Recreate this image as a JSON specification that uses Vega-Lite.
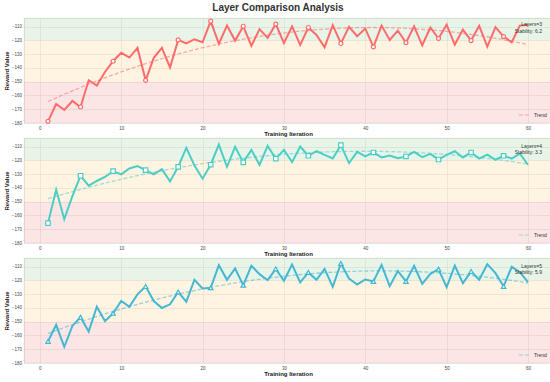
{
  "$schema": "https://vega.github.io/schema/vega-lite/v6.json",
  "padding": {"left": 2, "top": 3, "right": 0, "bottom": 1},
  "title": {"text": "Layer Comparison Analysis", "fontSize": 10, "fontWeight": "bold", "color": "#333333", "anchor": "middle", "offset": 3},
  "spacing": 0,
  "datasets": {
    "runs": [
      {"iteration":1,"reward":-178.8,"layers":3},{"iteration":2,"reward":-166.2,"layers":3},{"iteration":3,"reward":-170.5,"layers":3},{"iteration":4,"reward":-164,"layers":3},{"iteration":5,"reward":-168.4,"layers":3},{"iteration":6,"reward":-149,"layers":3},{"iteration":7,"reward":-152.8,"layers":3},{"iteration":8,"reward":-143,"layers":3},{"iteration":9,"reward":-135.2,"layers":3},{"iteration":10,"reward":-129.1,"layers":3},
      {"iteration":11,"reward":-132.5,"layers":3},{"iteration":12,"reward":-125.5,"layers":3},{"iteration":13,"reward":-149,"layers":3},{"iteration":14,"reward":-132.7,"layers":3},{"iteration":15,"reward":-125.5,"layers":3},{"iteration":16,"reward":-139.7,"layers":3},{"iteration":17,"reward":-119.7,"layers":3},{"iteration":18,"reward":-122.3,"layers":3},{"iteration":19,"reward":-119.2,"layers":3},{"iteration":20,"reward":-121.4,"layers":3},
      {"iteration":21,"reward":-106.1,"layers":3},{"iteration":22,"reward":-122.6,"layers":3},{"iteration":23,"reward":-109.3,"layers":3},{"iteration":24,"reward":-120.2,"layers":3},{"iteration":25,"reward":-109.8,"layers":3},{"iteration":26,"reward":-124,"layers":3},{"iteration":27,"reward":-111.9,"layers":3},{"iteration":28,"reward":-118.2,"layers":3},{"iteration":29,"reward":-108.2,"layers":3},{"iteration":30,"reward":-122,"layers":3},
      {"iteration":31,"reward":-109.8,"layers":3},{"iteration":32,"reward":-123.3,"layers":3},{"iteration":33,"reward":-110.7,"layers":3},{"iteration":34,"reward":-116.1,"layers":3},{"iteration":35,"reward":-125,"layers":3},{"iteration":36,"reward":-109,"layers":3},{"iteration":37,"reward":-122.3,"layers":3},{"iteration":38,"reward":-110.2,"layers":3},{"iteration":39,"reward":-117,"layers":3},{"iteration":40,"reward":-111.5,"layers":3},
      {"iteration":41,"reward":-124.8,"layers":3},{"iteration":42,"reward":-109.3,"layers":3},{"iteration":43,"reward":-119.7,"layers":3},{"iteration":44,"reward":-112.9,"layers":3},{"iteration":45,"reward":-121.7,"layers":3},{"iteration":46,"reward":-109.8,"layers":3},{"iteration":47,"reward":-123.6,"layers":3},{"iteration":48,"reward":-110.7,"layers":3},{"iteration":49,"reward":-118.7,"layers":3},{"iteration":50,"reward":-108.7,"layers":3},
      {"iteration":51,"reward":-123.1,"layers":3},{"iteration":52,"reward":-112.2,"layers":3},{"iteration":53,"reward":-120.2,"layers":3},{"iteration":54,"reward":-109.5,"layers":3},{"iteration":55,"reward":-124.5,"layers":3},{"iteration":56,"reward":-110.4,"layers":3},{"iteration":57,"reward":-117.3,"layers":3},{"iteration":58,"reward":-121.4,"layers":3},{"iteration":59,"reward":-109.3,"layers":3},{"iteration":60,"reward":-108.7,"layers":3},

      {"iteration":1,"reward":-165.6,"layers":4},{"iteration":2,"reward":-141.3,"layers":4},{"iteration":3,"reward":-162.7,"layers":4},{"iteration":4,"reward":-146,"layers":4},{"iteration":5,"reward":-131.2,"layers":4},{"iteration":6,"reward":-138.4,"layers":4},{"iteration":7,"reward":-135,"layers":4},{"iteration":8,"reward":-132.1,"layers":4},{"iteration":9,"reward":-127.8,"layers":4},{"iteration":10,"reward":-130.2,"layers":4},
      {"iteration":11,"reward":-125.9,"layers":4},{"iteration":12,"reward":-124.2,"layers":4},{"iteration":13,"reward":-127.1,"layers":4},{"iteration":14,"reward":-130.2,"layers":4},{"iteration":15,"reward":-126.4,"layers":4},{"iteration":16,"reward":-135.3,"layers":4},{"iteration":17,"reward":-124.7,"layers":4},{"iteration":18,"reward":-111,"layers":4},{"iteration":19,"reward":-123.7,"layers":4},{"iteration":20,"reward":-133.3,"layers":4},
      {"iteration":21,"reward":-123.2,"layers":4},{"iteration":22,"reward":-108.6,"layers":4},{"iteration":23,"reward":-124.7,"layers":4},{"iteration":24,"reward":-110.2,"layers":4},{"iteration":25,"reward":-121.5,"layers":4},{"iteration":26,"reward":-112.4,"layers":4},{"iteration":27,"reward":-123.4,"layers":4},{"iteration":28,"reward":-109.5,"layers":4},{"iteration":29,"reward":-118.8,"layers":4},{"iteration":30,"reward":-112.4,"layers":4},
      {"iteration":31,"reward":-121.3,"layers":4},{"iteration":32,"reward":-110,"layers":4},{"iteration":33,"reward":-116.7,"layers":4},{"iteration":34,"reward":-113.4,"layers":4},{"iteration":35,"reward":-116,"layers":4},{"iteration":36,"reward":-118.7,"layers":4},{"iteration":37,"reward":-109,"layers":4},{"iteration":38,"reward":-122,"layers":4},{"iteration":39,"reward":-113.9,"layers":4},{"iteration":40,"reward":-117.2,"layers":4},
      {"iteration":41,"reward":-114.3,"layers":4},{"iteration":42,"reward":-117.9,"layers":4},{"iteration":43,"reward":-116.5,"layers":4},{"iteration":44,"reward":-118.4,"layers":4},{"iteration":45,"reward":-117.2,"layers":4},{"iteration":46,"reward":-113.9,"layers":4},{"iteration":47,"reward":-117.7,"layers":4},{"iteration":48,"reward":-115.3,"layers":4},{"iteration":49,"reward":-119.4,"layers":4},{"iteration":50,"reward":-116,"layers":4},
      {"iteration":51,"reward":-113.4,"layers":4},{"iteration":52,"reward":-117.9,"layers":4},{"iteration":53,"reward":-114.3,"layers":4},{"iteration":54,"reward":-118.7,"layers":4},{"iteration":55,"reward":-115.8,"layers":4},{"iteration":56,"reward":-119.6,"layers":4},{"iteration":57,"reward":-116.7,"layers":4},{"iteration":58,"reward":-118.7,"layers":4},{"iteration":59,"reward":-115.1,"layers":4},{"iteration":60,"reward":-123.2,"layers":4},

      {"iteration":1,"reward":-164.4,"layers":5},{"iteration":2,"reward":-152.3,"layers":5},{"iteration":3,"reward":-168.2,"layers":5},{"iteration":4,"reward":-153.1,"layers":5},{"iteration":5,"reward":-146.8,"layers":5},{"iteration":6,"reward":-157.2,"layers":5},{"iteration":7,"reward":-139.1,"layers":5},{"iteration":8,"reward":-149.6,"layers":5},{"iteration":9,"reward":-143.9,"layers":5},{"iteration":10,"reward":-135,"layers":5},
      {"iteration":11,"reward":-139.3,"layers":5},{"iteration":12,"reward":-130.2,"layers":5},{"iteration":13,"reward":-124.4,"layers":5},{"iteration":14,"reward":-135,"layers":5},{"iteration":15,"reward":-140.1,"layers":5},{"iteration":16,"reward":-137.4,"layers":5},{"iteration":17,"reward":-128.5,"layers":5},{"iteration":18,"reward":-135.5,"layers":5},{"iteration":19,"reward":-119.6,"layers":5},{"iteration":20,"reward":-125.9,"layers":5},
      {"iteration":21,"reward":-125.4,"layers":5},{"iteration":22,"reward":-109,"layers":5},{"iteration":23,"reward":-119.6,"layers":5},{"iteration":24,"reward":-111.4,"layers":5},{"iteration":25,"reward":-123.5,"layers":5},{"iteration":26,"reward":-109.5,"layers":5},{"iteration":27,"reward":-115.5,"layers":5},{"iteration":28,"reward":-119.9,"layers":5},{"iteration":29,"reward":-111.7,"layers":5},{"iteration":30,"reward":-120.3,"layers":5},
      {"iteration":31,"reward":-108.6,"layers":5},{"iteration":32,"reward":-121.5,"layers":5},{"iteration":33,"reward":-114.3,"layers":5},{"iteration":34,"reward":-119.6,"layers":5},{"iteration":35,"reward":-111.7,"layers":5},{"iteration":36,"reward":-124.7,"layers":5},{"iteration":37,"reward":-107.8,"layers":5},{"iteration":38,"reward":-118.7,"layers":5},{"iteration":39,"reward":-123,"layers":5},{"iteration":40,"reward":-119.4,"layers":5},
      {"iteration":41,"reward":-120.8,"layers":5},{"iteration":42,"reward":-108.8,"layers":5},{"iteration":43,"reward":-124.2,"layers":5},{"iteration":44,"reward":-113.2,"layers":5},{"iteration":45,"reward":-120.8,"layers":5},{"iteration":46,"reward":-109.5,"layers":5},{"iteration":47,"reward":-122.5,"layers":5},{"iteration":48,"reward":-115.3,"layers":5},{"iteration":49,"reward":-111.9,"layers":5},{"iteration":50,"reward":-124.9,"layers":5},
      {"iteration":51,"reward":-109.3,"layers":5},{"iteration":52,"reward":-122.1,"layers":5},{"iteration":53,"reward":-113.5,"layers":5},{"iteration":54,"reward":-119.6,"layers":5},{"iteration":55,"reward":-108.3,"layers":5},{"iteration":56,"reward":-114.8,"layers":5},{"iteration":57,"reward":-124.4,"layers":5},{"iteration":58,"reward":-110.2,"layers":5},{"iteration":59,"reward":-114.1,"layers":5},{"iteration":60,"reward":-121.3,"layers":5}
    ],
    "zones": [
      {"low": -180, "high": -150, "zone": "poor"},
      {"low": -150, "high": -120, "zone": "fair"},
      {"low": -120, "high": -100, "zone": "good"}
    ]
  },
  "resolve": {"scale": {"strokeDash": "independent", "fill": "independent"}, "legend": {"strokeDash": "independent"}},
  "vconcat": [
    {
      "width": 528, "height": 105,
      "title": {"text": ["Layers=3", "Stability: 6.2"]},
      "encoding": {
        "x": {"field": "iteration", "type": "quantitative", "scale": {"domain": [-1.95, 62.95], "nice": false, "zero": false}, "axis": {"values": [0,10,20,30,40,50,60], "title": "Training Iteration", "labelOverlap": false}},
        "y": {"field": "reward", "type": "quantitative", "scale": {"domain": [-180, -103.8], "nice": false, "zero": false}, "axis": {"values": [-180,-170,-160,-150,-140,-130,-120,-110], "title": "Reward Value", "labelOverlap": false}}
      },
      "layer": [
        {
          "data": {"name": "zones"},
          "mark": {"type": "rect", "clip": true, "fillOpacity": 0.12},
          "encoding": {
            "x": null,
            "y": {"field": "low", "type": "quantitative"},
            "y2": {"field": "high"},
            "fill": {"field": "zone", "type": "nominal", "scale": {"domain": ["poor","fair","good"], "range": ["#e8302a","#ff9a10","#43a843"]}, "legend": null}
          }
        },
        {
          "data": {"name": "runs"},
          "transform": [{"filter": "datum.layers == 3"}, {"regression": "reward", "on": "iteration", "method": "poly", "order": 2, "extent": [1, 60]}],
          "mark": {"type": "line", "color": "#ff6b6b", "strokeWidth": 1.3, "strokeOpacity": 0.55},
          "encoding": {
            "strokeDash": {"datum": "Trend", "type": "nominal", "scale": {"range": [[4, 2]]}, "legend": {"title": null, "orient": "bottom-right", "symbolStrokeColor": "#ff6b6b", "symbolOpacity": 0.55}}
          }
        },
        {
          "data": {"name": "runs"},
          "transform": [{"filter": "datum.layers == 3"}],
          "mark": {"type": "line", "color": "#ff6b6b", "strokeWidth": 2},
          "encoding": {}
        },
        {
          "data": {"name": "runs"},
          "transform": [{"filter": "datum.layers == 3 && datum.iteration % 4 == 1"}],
          "mark": {"type": "point", "shape": "circle", "filled": true, "fill": "white", "stroke": "#ff6b6b", "strokeWidth": 1.2, "size": 16, "opacity": 1},
          "encoding": {}
        }
      ]
    },
    {
      "width": 528, "height": 105,
      "title": {"text": ["Layers=4", "Stability: 3.3"]},
      "encoding": {
        "x": {"field": "iteration", "type": "quantitative", "scale": {"domain": [-1.95, 62.95], "nice": false, "zero": false}, "axis": {"values": [0,10,20,30,40,50,60], "title": "Training Iteration", "labelOverlap": false}},
        "y": {"field": "reward", "type": "quantitative", "scale": {"domain": [-180, -103.8], "nice": false, "zero": false}, "axis": {"values": [-180,-170,-160,-150,-140,-130,-120,-110], "title": "Reward Value", "labelOverlap": false}}
      },
      "layer": [
        {
          "data": {"name": "zones"},
          "mark": {"type": "rect", "clip": true, "fillOpacity": 0.12},
          "encoding": {
            "x": null,
            "y": {"field": "low", "type": "quantitative"},
            "y2": {"field": "high"},
            "fill": {"field": "zone", "type": "nominal", "scale": {"domain": ["poor","fair","good"], "range": ["#e8302a","#ff9a10","#43a843"]}, "legend": null}
          }
        },
        {
          "data": {"name": "runs"},
          "transform": [{"filter": "datum.layers == 4"}, {"regression": "reward", "on": "iteration", "method": "poly", "order": 2, "extent": [1, 60]}],
          "mark": {"type": "line", "color": "#4ecdc4", "strokeWidth": 1.3, "strokeOpacity": 0.55},
          "encoding": {
            "strokeDash": {"datum": "Trend", "type": "nominal", "scale": {"range": [[4, 2]]}, "legend": {"title": null, "orient": "bottom-right", "symbolStrokeColor": "#4ecdc4", "symbolOpacity": 0.55}}
          }
        },
        {
          "data": {"name": "runs"},
          "transform": [{"filter": "datum.layers == 4"}],
          "mark": {"type": "line", "color": "#4ecdc4", "strokeWidth": 2},
          "encoding": {}
        },
        {
          "data": {"name": "runs"},
          "transform": [{"filter": "datum.layers == 4 && datum.iteration % 4 == 1"}],
          "mark": {"type": "point", "shape": "square", "filled": true, "fill": "white", "stroke": "#4ecdc4", "strokeWidth": 1.2, "size": 20, "opacity": 1},
          "encoding": {}
        }
      ]
    },
    {
      "width": 528, "height": 105,
      "title": {"text": ["Layers=5", "Stability: 5.9"]},
      "encoding": {
        "x": {"field": "iteration", "type": "quantitative", "scale": {"domain": [-1.95, 62.95], "nice": false, "zero": false}, "axis": {"values": [0,10,20,30,40,50,60], "title": "Training Iteration", "labelOverlap": false}},
        "y": {"field": "reward", "type": "quantitative", "scale": {"domain": [-180, -103.8], "nice": false, "zero": false}, "axis": {"values": [-180,-170,-160,-150,-140,-130,-120,-110], "title": "Reward Value", "labelOverlap": false}}
      },
      "layer": [
        {
          "data": {"name": "zones"},
          "mark": {"type": "rect", "clip": true, "fillOpacity": 0.12},
          "encoding": {
            "x": null,
            "y": {"field": "low", "type": "quantitative"},
            "y2": {"field": "high"},
            "fill": {"field": "zone", "type": "nominal", "scale": {"domain": ["poor","fair","good"], "range": ["#e8302a","#ff9a10","#43a843"]}, "legend": null}
          }
        },
        {
          "data": {"name": "runs"},
          "transform": [{"filter": "datum.layers == 5"}, {"regression": "reward", "on": "iteration", "method": "poly", "order": 2, "extent": [1, 60]}],
          "mark": {"type": "line", "color": "#45b7d1", "strokeWidth": 1.3, "strokeOpacity": 0.55},
          "encoding": {
            "strokeDash": {"datum": "Trend", "type": "nominal", "scale": {"range": [[4, 2]]}, "legend": {"title": null, "orient": "bottom-right", "symbolStrokeColor": "#45b7d1", "symbolOpacity": 0.55}}
          }
        },
        {
          "data": {"name": "runs"},
          "transform": [{"filter": "datum.layers == 5"}],
          "mark": {"type": "line", "color": "#45b7d1", "strokeWidth": 2},
          "encoding": {}
        },
        {
          "data": {"name": "runs"},
          "transform": [{"filter": "datum.layers == 5 && datum.iteration % 4 == 1"}],
          "mark": {"type": "point", "shape": "triangle-up", "filled": true, "fill": "white", "stroke": "#45b7d1", "strokeWidth": 1.2, "size": 20, "opacity": 1},
          "encoding": {}
        }
      ]
    }
  ],
  "config": {
    "font": "Liberation Sans",
    "view": {"stroke": "#d9d9d9", "strokeWidth": 0.8},
    "title": {"anchor": "end", "frame": "group", "align": "right", "baseline": "bottom", "fontSize": 5, "fontWeight": "normal", "color": "#333333", "lineHeight": 6.5, "offset": -17, "dx": -10, "zindex": 1},
    "axis": {"labelFontSize": 4.5, "labelColor": "#444444", "titleFontSize": 6, "titleFontWeight": "bold", "titleColor": "#222222", "ticks": false, "domain": false, "gridColor": "#e4e4e4", "gridWidth": 0.6, "labelPadding": 2.5, "labelOverlap": false},
    "axisX": {"titlePadding": 0.5, "labelPadding": 2},
    "axisY": {"titlePadding": 2},
    "legend": {"symbolType": "stroke", "symbolSize": 110, "symbolStrokeWidth": 1.2, "labelFontSize": 5, "labelColor": "#333333", "padding": 2, "offset": 3, "rowPadding": 0}
  }
}
